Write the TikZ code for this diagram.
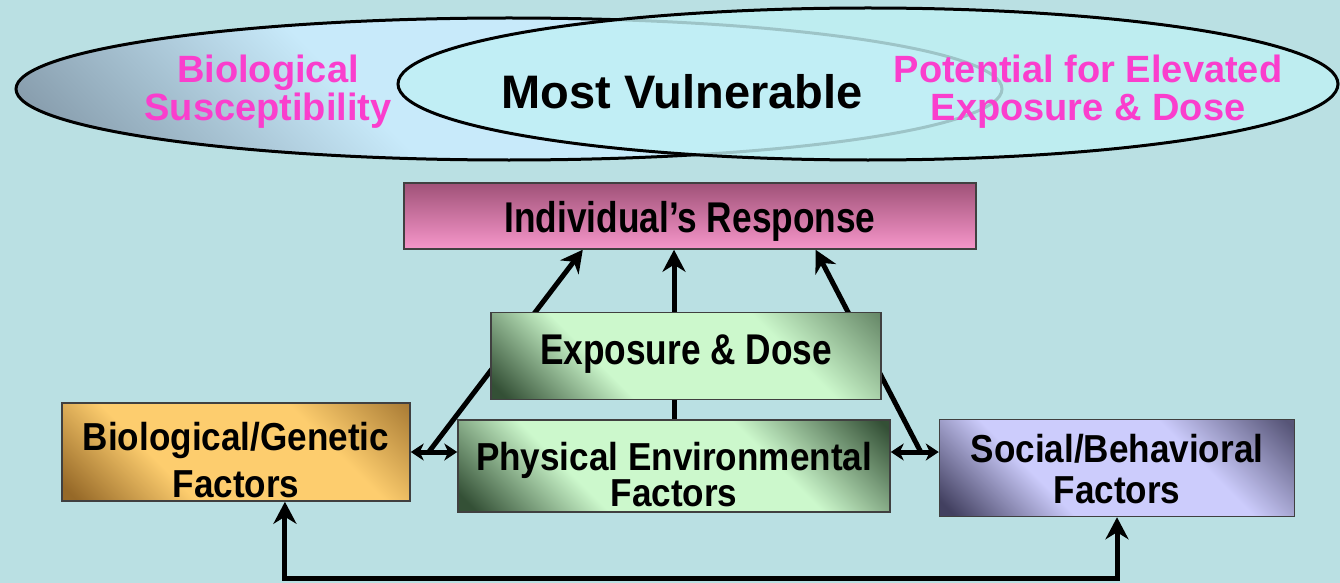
\documentclass[tikz,border=0pt]{standalone}
\usepackage{fontspec}
\setmainfont{Liberation Sans}
\newfontfamily\condSans[FakeStretch=0.82]{Liberation Sans}
\newfontfamily\semiSans[FakeStretch=0.9]{Liberation Sans}
\usetikzlibrary{arrows.meta,calc}
\pgfdeclarelayer{backdrop}
\pgfdeclarelayer{lines}
\pgfsetlayers{backdrop,lines,main}

\definecolor{BgCyan}{RGB}{186,224,227}
\definecolor{PinkText}{RGB}{250,62,205}
\definecolor{EllLight}{RGB}{200,234,250}
\definecolor{EllGrey}{RGB}{128,148,164}
\definecolor{EllCyan}{RGB}{192,240,244}
\definecolor{RespTop}{RGB}{160,82,120}
\definecolor{RespMid}{RGB}{236,134,186}
\definecolor{RespLow}{RGB}{246,150,202}
\definecolor{GreenLight}{RGB}{204,248,204}
\definecolor{GreenDark}{RGB}{52,80,54}
\definecolor{GoldLight}{RGB}{253,205,110}
\definecolor{GoldDark}{RGB}{150,105,40}
\definecolor{LavLight}{RGB}{204,204,252}
\definecolor{LavDark}{RGB}{66,64,96}

% diagonal shadings: 0bp = lower left corner, 100bp = upper right corner
\pgfdeclarehorizontalshading{ellShade}{100bp}{color(0bp)=(EllGrey); color(16bp)=(EllGrey);
  color(40bp)=(EllLight); color(100bp)=(EllLight)}
\pgfdeclarehorizontalshading{expShade}{100bp}{color(0bp)=(GreenDark); color(17bp)=(GreenDark);
  color(36bp)=(GreenLight); color(66bp)=(GreenLight); color(86bp)=(GreenDark!70!GreenLight); color(100bp)=(GreenDark!70!GreenLight)}
\pgfdeclarehorizontalshading{physShade}{100bp}{color(0bp)=(GreenDark); color(17bp)=(GreenDark);
  color(35bp)=(GreenLight); color(64bp)=(GreenLight); color(84bp)=(GreenDark); color(100bp)=(GreenDark)}
\pgfdeclarehorizontalshading{goldShade}{100bp}{color(0bp)=(GoldDark); color(17bp)=(GoldDark);
  color(36bp)=(GoldLight); color(66bp)=(GoldLight); color(86bp)=(GoldDark!85!GoldLight); color(100bp)=(GoldDark!85!GoldLight)}
\pgfdeclarehorizontalshading{lavShade}{100bp}{color(0bp)=(LavDark); color(17bp)=(LavDark);
  color(36bp)=(LavLight); color(64bp)=(LavLight); color(84bp)=(LavDark!85!LavLight); color(100bp)=(LavDark!85!LavLight)}

\newcommand{\respFont}{\fontsize{43}{44}\condSans\bfseries}
\newcommand{\factorFont}{\fontsize{39}{44}\semiSans\bfseries}
\newcommand{\pinkFont}{\fontsize{38}{38}\selectfont\bfseries}

\begin{document}
\begin{tikzpicture}[x=1pt,y=-1pt]
  \tikzset{
    box/.style={draw=black!75, line width=1.5pt, inner sep=0pt},
    boxtext/.style={align=center, inner sep=0pt, font=\factorFont},
    pinklabel/.style={align=center, inner sep=0pt, text=PinkText, font=\pinkFont},
    link/.style={draw=black, line width=5pt},
    bigtip/.style={arrows={-Stealth[length=22pt,width=23pt,inset=7pt]}},
    bothbig/.style={arrows={Stealth[length=22pt,width=23pt,inset=7pt]-Stealth[length=22pt,width=23pt,inset=7pt]}},
    bothsmall/.style={arrows={Stealth[length=13pt,width=17pt,inset=4pt]-Stealth[length=13pt,width=17pt,inset=4pt]}}
  }
  \begin{pgfonlayer}{backdrop}
    \fill[BgCyan] (0,0) rectangle (1340,583);
  \end{pgfonlayer}
  \useasboundingbox (0,0) rectangle (1340,583);

  % the two overlapping ellipses
  \shade[shading=ellShade, shading angle=45] (509,89) ellipse [x radius=493, y radius=71];
  \draw[line width=3pt] (509,89) ellipse [x radius=493, y radius=71];
  \fill[EllCyan, fill opacity=0.82] (868,84) ellipse [x radius=470, y radius=76];
  \draw[line width=3pt] (868,84) ellipse [x radius=470, y radius=76];

  \node[pinklabel] (BioSus) at (268,92) {Biological\\Susceptibility};
  \node[inner sep=0pt, font=\fontsize{47}{50}\selectfont\bfseries] (MostVuln) at (682,92) {Most Vulnerable};
  \node[pinklabel] (PotExp) at (1088,92) {Potential for Elevated\\Exposure \& Dose};

  % boxes
  \node[box, minimum width=572pt, minimum height=66pt,
        top color=RespTop, middle color=RespMid, bottom color=RespLow] (Resp) at (690,216) {};
  \node[boxtext, font=\respFont] (RespTxt) at ($(Resp.center)+(0,5)$) {Individual’s Response};
  \node[box, minimum width=390pt, minimum height=87pt, shading=expShade, shading angle=45] (Exp) at (686,356) {};
  \node[boxtext, font=\respFont] (ExpTxt) at ($(Exp.center)+(0,-2)$) {Exposure \& Dose};
  \node[box, minimum width=432pt, minimum height=92pt, shading=physShade, shading angle=45] (Phys) at (674,466) {};
  \node[boxtext, font=\fontsize{39}{34}\semiSans\bfseries] (PhysTxt) at ($(Phys.center)+(0,9)$) {Physical Environmental\\Factors};
  \node[box, minimum width=348pt, minimum height=98pt, shading=goldShade, shading angle=45] (Bio) at (236,452) {};
  \node[boxtext, font=\fontsize{39}{47}\semiSans\bfseries] (BioTxt) at ($(Bio.center)+(0,8)$) {Biological/Genetic\\Factors};
  \node[box, minimum width=355pt, minimum height=97pt, shading=lavShade, shading angle=45] (Soc) at (1117,468) {};
  \node[boxtext, font=\fontsize{39}{41}\semiSans\bfseries] (SocTxt) at ($(Soc.center)+(0,1)$) {Social/Behavioral\\Factors};

  % connectors
  \coordinate (jL) at ($(Bio.east)+(18,0)$);
  \coordinate (jR) at ($(Bio.east -| Soc.west)+(-18,0)$);
  \coordinate (RespL) at ($(Resp.south west)!0.313!(Resp.south east)$);
  \coordinate (RespR) at ($(Resp.south west)!0.719!(Resp.south east)$);
  \coordinate (BioB) at ($(Bio.south west)!0.64!(Bio.south east)$);
  \coordinate (Floor) at (0,578);
  \begin{pgfonlayer}{lines}
    \draw[link, bigtip] (jL) -- (RespL);
    \draw[link, bigtip] (Phys.north) -- (Phys.north |- Resp.south);
    \draw[link, bigtip] (jR) -- (RespR);
  \end{pgfonlayer}
  \draw[link, bothsmall] (Bio.east) -- (Bio.east -| Phys.west);
  \draw[link, bothsmall] (Bio.east -| Phys.east) -- (Bio.east -| Soc.west);
  \draw[link, bothbig] (BioB) -- (BioB |- Floor) -| (Soc.south);
\end{tikzpicture}
\end{document}
